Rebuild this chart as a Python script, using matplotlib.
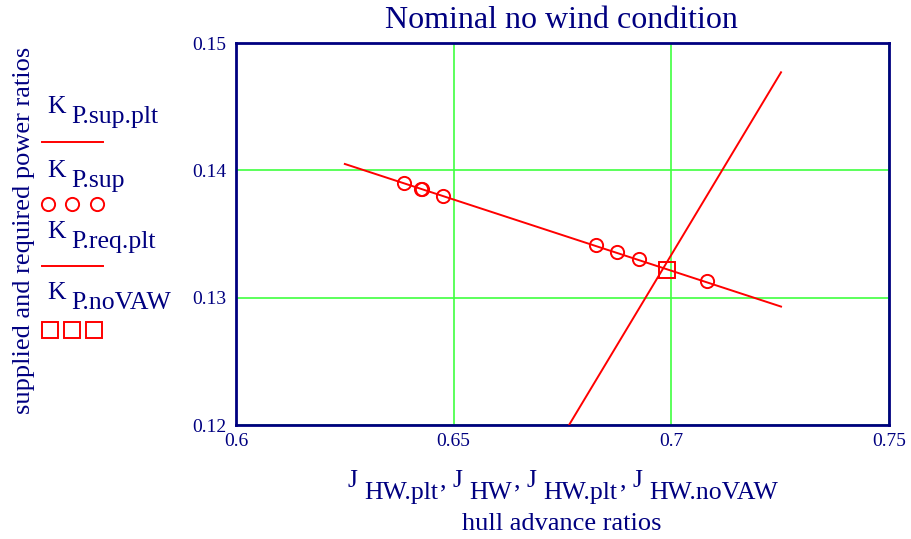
import matplotlib
matplotlib.use('Agg')
import matplotlib.pyplot as plt
from matplotlib.lines import Line2D

plt.rcParams['font.family'] = ['Liberation Serif', 'DejaVu Serif']

NAVY = '#000080'
RED = '#ff0000'
GREEN = '#40ff40'

# supplied power line (plot)
j_sup_plt = [0.625, 0.7252]
k_sup_plt = [0.1405, 0.1293]
# supplied power points
j_sup = [0.6386, 0.6425, 0.6427, 0.6476, 0.6826, 0.6875, 0.6925, 0.7081]
k_sup = [0.1390, 0.1385, 0.1385, 0.1380, 0.1341, 0.1336, 0.1330, 0.1313]
# required power line (plot)
j_req_plt = [0.6765, 0.7252]
k_req_plt = [0.1200, 0.1477]
# intersection, no VAW
j_novaw = [0.6991]
k_novaw = [0.1322]

xticks = [0.6, 0.65, 0.7, 0.75]
xticklabels = ['0.6', '0.65', '0.7', '0.75']
yticks = [0.12, 0.13, 0.14, 0.15]
yticklabels = ['0.12', '0.13', '0.14', '0.15']

x_names = ['HW.plt', 'HW', 'HW.plt', 'HW.noVAW']
leg_names = ['P.sup.plt', 'P.sup', 'P.req.plt', 'P.noVAW']

W, H = 911, 539
fig = plt.figure(figsize=(W / 100, H / 100), dpi=100)
ax = fig.add_axes([236 / W, 1 - 425 / H, (889 - 236) / W, (425 - 43) / H])


def fx(px):
    return px / W


def fy(py):
    return 1 - py / H


ax.plot(j_sup_plt, k_sup_plt, color=RED, lw=1.4, zorder=3)
ax.plot(j_sup, k_sup, ls='none', marker='o', ms=9.5, mfc='none', mec=RED, mew=1.4, zorder=4)
ax.plot(j_req_plt, k_req_plt, color=RED, lw=1.4, zorder=3)
ax.plot(j_novaw, k_novaw, ls='none', marker='s', ms=11.5, mfc='none', mec=RED, mew=1.4, zorder=4)

ax.set_xlim(0.6, 0.75)
ax.set_ylim(0.12, 0.15)
ax.set_xticks(xticks)
ax.set_xticklabels(xticklabels)
ax.set_yticks(yticks)
ax.set_yticklabels(yticklabels)
ax.tick_params(length=0, labelsize=14, labelcolor=NAVY)
ax.tick_params(axis='x', pad=6)
ax.tick_params(axis='y', pad=7)
ax.grid(True, color=GREEN, lw=1.2, zorder=1)
for s in ax.spines.values():
    s.set_color(NAVY)
    s.set_linewidth(2)

fig.text(fx(561), fy(21), 'Nominal no wind condition', color=NAVY, fontsize=23,
         ha='center', va='center')

# x axis label: J raised, name on the baseline, commas raised
renderer = fig.canvas.get_renderer()
SIZE = 18.5
x = 347
base = 499
for i, name in enumerate(x_names):
    t = fig.text(fx(x), fy(base - 12), 'J', color=NAVY, fontsize=SIZE, va='baseline')
    x += t.get_window_extent(renderer).width + 7
    t = fig.text(fx(x), fy(base), name, color=NAVY, fontsize=SIZE, va='baseline')
    x += t.get_window_extent(renderer).width + 2
    if i < len(x_names) - 1:
        t = fig.text(fx(x), fy(base - 12), ',', color=NAVY, fontsize=SIZE, va='baseline')
        x += t.get_window_extent(renderer).width + 6

fig.text(fx(562), fy(530), 'hull advance ratios', color=NAVY, fontsize=19,
         ha='center', va='baseline')

fig.text(fx(24), fy(230), 'supplied and required power ratios', color=NAVY,
         fontsize=19, rotation=90, ha='center', va='center')

# legend, Mathcad style: name above the symbol
leg_base = [123, 187, 248, 309]
for name, y in zip(leg_names, leg_base):
    fig.text(fx(47), fy(y - 10), 'K', color=NAVY, fontsize=SIZE, va='baseline')
    fig.text(fx(71), fy(y), name, color=NAVY, fontsize=SIZE, va='baseline')
fig.add_artist(Line2D([fx(42), fx(103)], [fy(142), fy(142)], color=RED, lw=1.4))
fig.add_artist(Line2D([fx(42), fx(103)], [fy(266), fy(266)], color=RED, lw=1.4))
fig.add_artist(Line2D([fx(48), fx(72), fx(97)], [fy(204)] * 3, ls='none', marker='o',
                      ms=9.5, mfc='none', mec=RED, mew=1.4))
fig.add_artist(Line2D([fx(50), fx(71.5), fx(93.5)], [fy(330)] * 3, ls='none', marker='s',
                      ms=11.5, mfc='none', mec=RED, mew=1.4))

fig.savefig('out.png', dpi=100, facecolor='white')
